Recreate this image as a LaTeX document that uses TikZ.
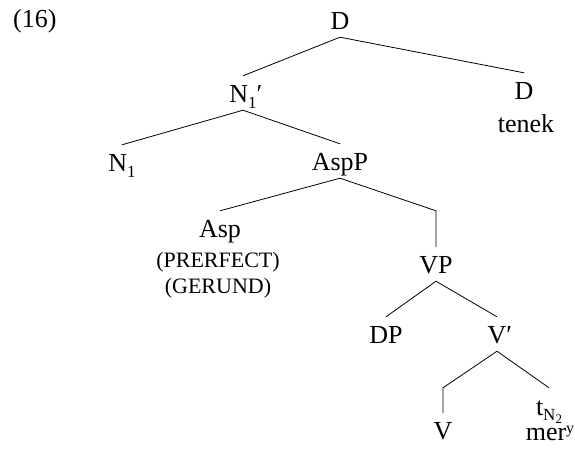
\documentclass[tikz,border=0pt]{standalone}
\usepackage{fontspec}
\setmainfont{Liberation Serif}
% lowered / raised small indices
\newcommand{\lowidx}[1]{\raisebox{-6pt}{\fontsize{17}{17}\selectfont #1}}
\newcommand{\traceidx}[1]{\raisebox{-5pt}{\fontsize{17}{17}\selectfont #1}}
\newcommand{\lowlowidx}[1]{\raisebox{-3pt}{\fontsize{13}{13}\selectfont #1}}
\newcommand{\highidx}[1]{\raisebox{7pt}{\fontsize{16}{16}\selectfont #1}}
\begin{document}
\begin{tikzpicture}[x=1pt,y=-1pt,
  every node/.style={font=\fontsize{26}{31}\selectfont},
  cat/.style={anchor=base, inner xsep=0pt, inner ysep=8pt, text height=18pt, text depth=0pt},
  word/.style={anchor=base, inner sep=0pt},
  feat/.style={anchor=base, inner sep=0pt, font=\fontsize{22}{26}\selectfont},
  branch/.style={line width=0.8pt}]
\useasboundingbox (0,0) rectangle (575,450);

% example number
\node[word, anchor=base west] (ex) at (13,27) {(16)};

% category labels
\node[cat] (D)    at (340,29)  {D};
\node[cat] (N1p)  at (243,102) {N\lowidx{1}\rlap{′}};
\node[cat] (Dr)   at (524,99)  {D};
\node[cat] (N1)   at (122,171) {N\lowidx{1}};
\node[cat] (AspP) at (340,170) {AspP};
\node[cat] (Asp)  at (220,237) {Asp};
\node[cat] (VP)   at (436,273) {VP};
\node[cat] (DP)   at (386,343) {DP};
\node[cat] (Vp)   at (497,343) {V\rlap{′}};
\node[cat] (V)    at (443,439) {V};
\node[cat, text height=19pt] (tN) at (549,415) {t\traceidx{N\lowlowidx{2}}};

% words and features under the heads
\node[word] (tenek) at (526,132) {tenek};
\node[feat] (perf)  at (218,267) {(PRERFECT)};
\node[feat] (ger)   at (218,293) {(GERUND)};
\node[word] (mer)   at (550,440) {mer\highidx{y}};

% branches
\draw[branch] (N1p.north) -- (D.south) -- (Dr.north);
\draw[branch] (N1.north) -- (N1p.south) -- (AspP.north);
\draw[branch] (Asp.north) -- (AspP.south) -- (VP.north |- Asp.north) -- (VP.north);
\draw[branch] (DP.north) -- (VP.south) -- (Vp.north);
\draw[branch] (V.north) -- (V.north |- tN.north) -- (Vp.south) -- (tN.north);
\end{tikzpicture}
\end{document}
